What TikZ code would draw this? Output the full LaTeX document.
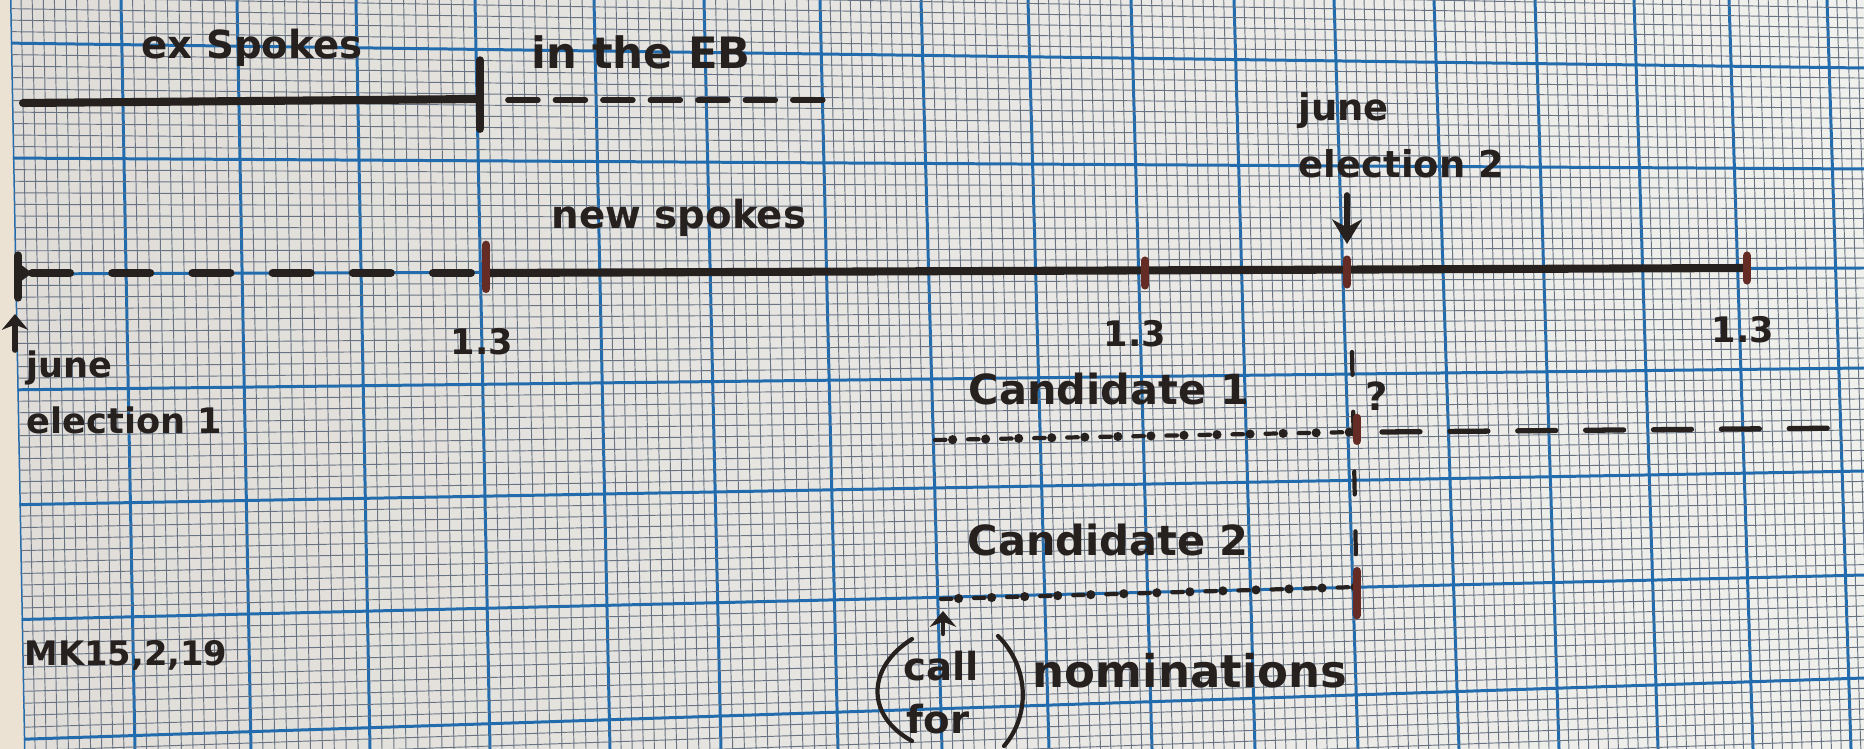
\documentclass[tikz,border=0pt]{standalone}
\usepackage{fontspec}
\setmainfont{DejaVu Sans}
\usetikzlibrary{arrows.meta}
\definecolor{paperL}{RGB}{224,221,216}
\definecolor{paperM}{RGB}{212,209,203}
\definecolor{paperR}{RGB}{240,240,237}
\definecolor{paperedge}{RGB}{236,226,212}
\definecolor{gridminor}{RGB}{104,116,132}
\definecolor{gridmajor}{RGB}{34,108,174}
\definecolor{ink}{RGB}{38,32,30}
\definecolor{tickink}{RGB}{100,44,36}

\begin{document}
\begin{tikzpicture}
      [x=0.01cm, y=-0.01cm,
      every node/.style={text=ink, inner sep=0pt, font=\bfseries\fontsize{11}{15}\selectfont},
      minorgrid/.style={gridminor, line width=0.27pt},
      majorgrid/.style={gridmajor, line width=0.85pt},
      pen/.style={draw=ink, line width=2.3pt, line cap=round},
      finepen/.style={draw=ink, line width=1.2pt, line cap=round},
      tickpen/.style={draw=tickink, line width=2.4pt, line cap=round},
      dotpen/.style={draw=ink, line width=2.6pt, line cap=round, dash pattern=on 0pt off 9.4pt},
      pointer/.style={finepen, -{Stealth[length=4.5pt,width=7.5pt]}},
      ]
      \useasboundingbox (0,0) rectangle (1864,749);
      \fill[paperedge] (0,0) rectangle (1864,749);
      \shade[left color=paperL, middle color=paperM, right color=paperR] (10,0) -- (1864,0) -- (1864,749) -- (24,749) -- cycle;
      \begin{scope}
        \clip (10,0) -- (1864,0) -- (1864,749) -- (24,749) -- cycle;
        \foreach \t/\b [remember=\t as \pt (initially -100), remember=\b as \pb (initially -86)]
          in {10/24, 121/135, 237/251, 356/370, 475/490, 594/610, 704/721, 820/838, 921/942,
              1028/1049, 1131/1152, 1234/1255, 1334/1358, 1434/1459, 1535/1559, 1634/1658,
              1729/1753, 1827/1851, 1925/1949}
        {
          \foreach \k in {1,...,9}
            \draw[minorgrid] ({\pt+(\t-\pt)*\k/10},0) -- ({\pb+(\b-\pb)*\k/10},749);
          \draw[majorgrid] (\t,0) -- (\b,749);
        }
        \foreach \l/\r [remember=\l as \pl (initially -187), remember=\r as \pr (initially -132)]
          in {-72/-32, 43/68, 158/169, 274/268, 390/368, 505/471, 620/575, 740/678, 855/781}
        {
          \foreach \k in {1,...,9}
            \draw[minorgrid] (0,{\pl+(\l-\pl)*\k/10}) -- (1864,{\pr+(\r-\pr)*\k/10});
          \draw[majorgrid] (0,\l) -- (1864,\r);
        }
      \end{scope}

      \coordinate (ex0) at (23,103);
      \coordinate (ex1) at (480,99);
      \coordinate (eb0) at (508,100);
      \coordinate (eb1) at (827,100);
      \coordinate (tl0) at (18,273);
      \coordinate (tl1) at (486,273);
      \coordinate (tl2) at (1145,273);
      \coordinate (tl3) at (1347,272);
      \coordinate (tl4) at (1747,268);
      \coordinate (c1a) at (935,440);
      \coordinate (c1b) at (1357,432);
      \coordinate (c1c) at (1382,432);
      \coordinate (c1d) at (1855,428);
      \coordinate (c2a) at (941,599);
      \coordinate (c2b) at (1357,587);
      \coordinate (vq0) at (1352,352);
      \coordinate (vq1) at (1357,616);

      \node (exsp) at (252,48) {ex Spokes};
      \node[font=\bfseries\fontsize{12.3}{15}\selectfont] (ineb) at (641,52) {in the EB};
      \node (newsp) at (679,218) {new spokes};
      \node[font=\bfseries\fontsize{10}{13}\selectfont] (r1) at (482,342) {1.3};
      \node[font=\bfseries\fontsize{10}{13}\selectfont] (r2) at (1135,334) {1.3};
      \node[font=\bfseries\fontsize{10}{13}\selectfont] (r3) at (1743,330) {1.3};
      \node[align=left, anchor=north west, font=\bfseries\fontsize{10.5}{16}\selectfont] (je2) at (1298,92) {june\\election 2};
      \node[align=left, anchor=north west, font=\bfseries\fontsize{10}{16}\selectfont] (je1) at (26,350) {june\\election 1};
      \node[font=\bfseries\fontsize{9.6}{13}\selectfont] (mk) at (126,655) {MK15,2,19};
      \node[font=\bfseries\fontsize{11.8}{15}\selectfont] (cand1) at (1109,389) {Candidate 1};
      \node[font=\bfseries\fontsize{11.8}{15}\selectfont] (cand2) at (1108,540) {Candidate 2};
      \node (qm) at (1377,396) {?};
      \node (call) at (941,666) {call};
      \node (for) at (938,719) {for};
      \node[font=\bfseries\fontsize{12.8}{16}\selectfont] (nom) at (1190,671) {nominations};

      \draw[pen] (ex0) -- (ex1);
      \draw[pen] ([yshift=11pt]ex1) -- ([yshift=-8.5pt]ex1);
      \draw[finepen, line width=1.6pt, dash pattern=on 8.5pt off 5pt] (eb0) -- (eb1);

      \draw[pen, dash pattern=on 10.8pt off 12pt, dash phase=-4pt] (tl0) -- (tl1);
      \draw[pen] (tl1) -- (tl4);
      \draw[pen] ([yshift=5pt]tl0) -- ([yshift=-7pt]tl0);
      \fill[ink] ([yshift=3pt]tl0) -- ([xshift=4pt]tl0) -- ([yshift=-3pt]tl0) -- cycle;
      \draw[tickpen] ([yshift=8pt]tl1) -- ([yshift=-4.5pt]tl1);
      \foreach \p in {tl2,tl3,tl4}
        \draw[tickpen] ([yshift=3.5pt]\p) -- ([yshift=-3.5pt]\p);

      \draw[pointer, line width=1.6pt, -{Stealth[length=7pt,width=8.5pt]}] (1347,195) -- (1347,244);
      \draw[pointer, line width=1.6pt] (15,350) -- (15,314);
      \draw[pointer] (943,634) -- (943,611);

      \draw[finepen, dash pattern=on 3pt off 6.4pt] (c1a) -- (c1b);
      \draw[dotpen, dash phase=-5pt] (c1a) -- (c1b);
      \draw[finepen, line width=1.5pt, dash pattern=on 10.8pt off 8.5pt] (c1c) -- (c1d);
      \draw[finepen, dash pattern=on 3pt off 6.4pt] (c2a) -- (c2b);
      \draw[dotpen, dash phase=-5pt] (c2a) -- (c2b);
      \draw[finepen, dash pattern=on 6.5pt off 10.5pt] (vq0) -- (vq1);
      \draw[tickpen] ([yshift=4pt]c1b) -- ([yshift=-2.5pt]c1b);
      \draw[tickpen] ([yshift=4.5pt]c2b) -- ([yshift=-8pt]c2b);

      \draw[finepen] (912,639) .. controls (866,668) and (866,716) .. (912,741);
      \draw[finepen] (998,636) .. controls (1030,668) and (1030,716) .. (1004,746);
\end{tikzpicture}
\end{document}
